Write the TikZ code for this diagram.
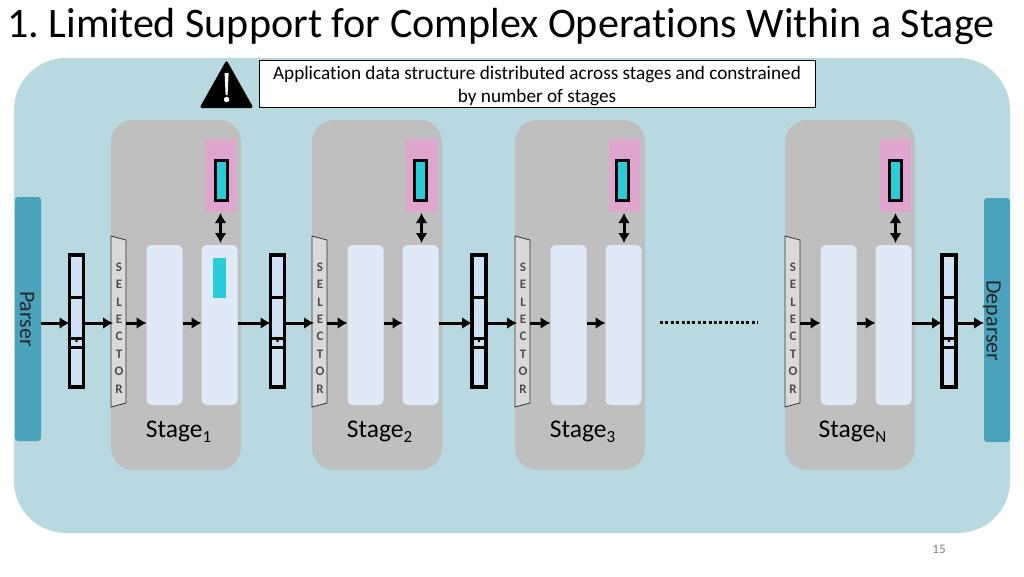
\documentclass[tikz,border=0pt]{standalone}
\usepackage{fontspec}
\setmainfont[Ligatures=NoCommon]{Carlito}
\usetikzlibrary{arrows.meta, calc}
\usetikzlibrary{positioning}

\definecolor{panelblue}{HTML}{B9D9E0}
\definecolor{stagegrey}{HTML}{BFBFBF}
\definecolor{tablelight}{HTML}{DFEAF6}
\definecolor{pinkmem}{HTML}{E0A5CC}
\definecolor{cyanfill}{HTML}{27CDD8}
\definecolor{parserblue}{HTML}{4AA3BD}
\definecolor{pktblue}{HTML}{CFE2F3}
\definecolor{selgrey}{HTML}{D9D9D9}

\tikzset{
    box/.style={inner sep=0pt, outer sep=0pt},
    stagebox/.style={box, fill=stagegrey, rounded corners=22pt, minimum width=130pt, minimum height=350pt},
    tablebox/.style={box, fill=tablelight, rounded corners=5pt, minimum width=36pt, minimum height=160pt},
    memblock/.style={box, fill=pinkmem, minimum width=31pt, minimum height=73pt},
    regblock/.style={box, draw, line width=3.2pt, fill=cyanfill, minimum width=12pt, minimum height=40pt},
    pkt/.style={box, draw, line width=3.2pt, fill=pktblue, minimum width=14pt, minimum height=132pt},
    endbox/.style={box, fill=parserblue, rounded corners=3pt, minimum width=26pt, minimum height=244pt},
    flow/.style={line width=3pt, -{Latex[length=10pt,width=12pt]}},
    lane/.style={font=\fontsize{22}{22}\selectfont, rotate=-90, color=black!85},
    sellabel/.style={box, align=center, text=black!70, font=\fontsize{13}{17.4}\selectfont\bfseries},
}

\begin{document}
\frenchspacing
\begin{tikzpicture}[x=1pt, y=-1pt]
    \useasboundingbox (0,0) rectangle (1024,576);
    \fill[white] (0,0) rectangle (1024,576);
    \node[box] (title) at (501,26) {\fontsize{42.1}{42.1}\selectfont 1. Limited Support for Complex Operations Within a Stage};
    \node[box, fill=panelblue, rounded corners=52pt, minimum width=996pt, minimum height=475pt] (panel) at (512,295.5) {};

    % warning sign
    \fill[black, rounded corners=2.5pt] (226.5,60) -- (253.5,108) -- (199.5,108) -- cycle;
    \fill[white] (224.6,73) -- (228.6,73) -- (227.6,95) -- (225.6,95) -- cycle;
    \fill[white] (226.6,99.5) circle (2.7);
    \node[box, draw, fill=white, line width=0.8pt, minimum width=556pt, minimum height=47pt] (note) at (537,83.5) {};
    \node[box, align=center, font=\fontsize{19.2}{23}\selectfont] (notetext) at (537,85.5)
        {Application data structure distributed across stages and constrained\\by number of stages};

    \node[endbox] (parser) at (28,319) {};
    \node[endbox] (deparser) at (997,320) {};
    \node[lane] (parsertext) at (27,319) {Parser};
    \node[lane] (deparsertext) at (992,321) {Deparser};

    \coordinate (flowline) at (0,323);

    % x of the stage, subscript, x of its memory, x of its register
    \foreach \x/\i/\t/\m/\r in {111/1/1/220.5/221.5, 312/2/2/421.5/420.5, 515/3/3/624/622.5, 785/4/N/895.5/895.5} {
        \node[stagebox] (stage\i) at (\x+65,295) {};
        \node[tablebox] (first\i) at (\x+53.5,325) {};
        \node[tablebox] (second\i) at (\x+108.5,325) {};
        \node[memblock] (mem\i) at (\m,175) {};
        \node[regblock] (reg\i) at (\r,180.5) {};
        \draw[line width=0.8pt, fill=selgrey, draw=black!80] (\x,236) -- (\x+15,240) -- (\x+15,403) -- (\x,407) -- cycle;
        \node[sellabel] (sel\i) at (\x+8,328) {S\\E\\L\\E\\C\\T\\O\\R};
        \coordinate (selin\i) at (\x+2,323);
        \coordinate (selout\i) at (\x+15,323);
        \node[box, font=\fontsize{25.5}{25.5}\selectfont] (name\i) at (\x+67.5,432)
            {Stage\raisebox{-5pt}{\fontsize{17}{17}\selectfont\t}};
        \draw[line width=3pt, {Latex[length=10pt,width=12pt]}-{Latex[length=10pt,width=12pt]}] (\m,213) -- (\m,243);
        \draw[flow] (selout\i) -- (first\i.west |- flowline);
        \draw[flow] (first\i.east |- flowline) -- (second\i.west |- flowline);
    }

    \fill[cyanfill] (213,258) rectangle (226,298);

    \foreach \x/\i in {76.5/1, 277.5/2, 479/3, 949/5} {
        \node[pkt] (pkt\i) at (\x,321) {};
        \draw[line width=3pt] ($(pkt\i.north west)+(0,42)$) -- ($(pkt\i.north east)+(0,42)$);
        \draw[line width=3pt] ($(pkt\i.north west)+(0,83)$) -- ($(pkt\i.north east)+(0,83)$);
        \draw[line width=3pt] ($(pkt\i.north west)+(0,92)$) -- ($(pkt\i.north east)+(0,92)$);
        \fill (\x,341) circle (1.4);
    }

    \draw[flow] (parser.east |- flowline) -- (pkt1.west |- flowline);
    \foreach \i in {1,2,3} {
        \draw[flow] (pkt\i.east |- flowline) -- (selin\i);
    }
    \draw[flow] (second1.east |- flowline) -- (pkt2.west |- flowline);
    \draw[flow] (second2.east |- flowline) -- (pkt3.west |- flowline);
    \draw[flow] (second4.east |- flowline) -- (pkt5.west |- flowline);
    \draw[flow] (pkt5.east |- flowline) -- (deparser.west |- flowline);

    \coordinate (dotsleft) at (660,322);
    \coordinate (dotsright) at (758,322);
    \draw[line width=3pt, dash pattern=on 3pt off 2.4pt] (dotsleft) -- (dotsright);

    \node[box, text=black!50, font=\fontsize{13}{13}\selectfont] (pagenum) at (939,549) {15};
\end{tikzpicture}
\end{document}
